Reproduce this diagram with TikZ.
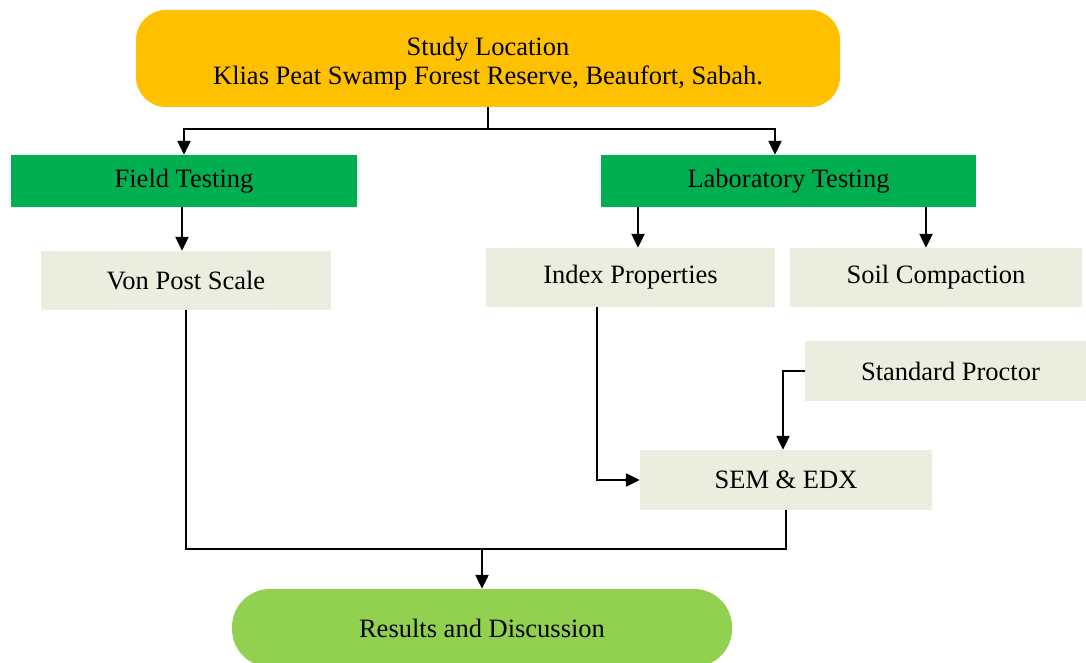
\documentclass[tikz,border=0pt]{standalone}
\usepackage{fontspec}
\setmainfont{Liberation Serif}
\usetikzlibrary{arrows.meta}
\definecolor{cOrange}{HTML}{FFC000}
\definecolor{cGreen}{HTML}{00B050}
\definecolor{cPale}{HTML}{EBEEDF}
\definecolor{cLight}{HTML}{92D050}
\begin{document}
\begin{tikzpicture}[x=1pt,y=-1pt,
  base/.style={inner sep=0pt,align=center,font=\fontsize{26.5}{29}\selectfont},
  topbox/.style={base,fill=cOrange,rounded corners=30pt},
  greenbox/.style={base,fill=cGreen},
  palebox/.style={base,fill=cPale},
  endbox/.style={base,fill=cLight,rounded corners=38pt},
  conn/.style={line width=2.3pt,black},
  arr/.style={conn,-{Triangle[length=14pt,width=13pt]}}]
\useasboundingbox (0,0) rectangle (1086,663);
\begin{scope}
\clip (0,0) rectangle (1086,663);
\node[topbox,minimum width=704pt,minimum height=97pt] (study) at (488,58.5) {};
\node[base] (studytxt) at (488,64) {Study Location\\Klias Peat Swamp Forest Reserve, Beaufort, Sabah.};
\node[greenbox,minimum width=346pt,minimum height=52pt] (field) at (184,181) {Field Testing};
\node[greenbox,minimum width=375pt,minimum height=52pt] (lab) at (788.5,181) {Laboratory Testing};
\node[palebox,minimum width=290pt,minimum height=59pt] (vp) at (186,280.5) {Von Post Scale};
\node[palebox,minimum width=289pt,minimum height=59pt] (idx) at (630.5,277.5) {Index Properties};
\node[palebox,minimum width=292pt,minimum height=59pt] (soil) at (936,277.5) {Soil Compaction};
\node[palebox,minimum width=281pt,minimum height=60pt] (sp) at (945.5,371) {\hspace*{10pt}Standard Proctor};
\node[palebox,minimum width=292pt,minimum height=60pt] (sem) at (786,480) {SEM \& EDX};
\node[endbox,minimum width=500pt,minimum height=78pt] (res) at (482,628) {Results and Discussion};
\end{scope}
\coordinate (j1) at (488,129);
\coordinate (j2) at (482,549);
\draw[conn] (study.south) -- (j1);
\draw[arr] (j1) -| (field.north);
\draw[arr] (j1) -| ([xshift=-13.5pt]lab.north);
\draw[arr] ([xshift=-2pt]field.south) -- ([xshift=-2pt]field.south |- vp.north);
\draw[arr] ([xshift=-150.5pt]lab.south) -- ([xshift=-150.5pt]lab.south |- idx.north);
\draw[arr] ([xshift=137.5pt]lab.south) -- ([xshift=137.5pt]lab.south |- soil.north);
\draw[arr] ([xshift=-33.5pt]idx.south) |- (sem.west);
\draw[arr] (sp.west) -| ([xshift=-3pt]sem.north);
\draw[conn] (vp.south) |- (j2) -| (sem.south);
\draw[arr] (j2) -- (res.north);
\end{tikzpicture}
\end{document}
